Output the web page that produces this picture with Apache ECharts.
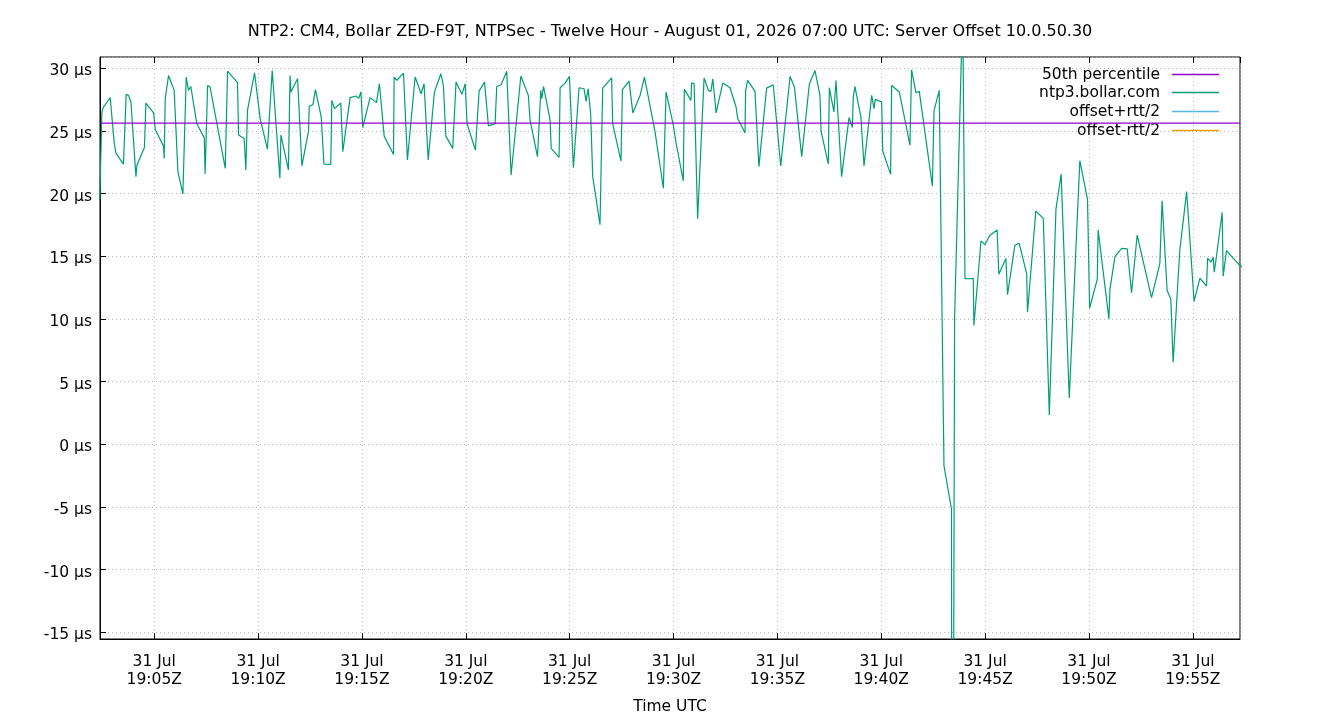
<!DOCTYPE html>
<html>
<head>
    <meta charset="utf-8">
    <title>NTP2 Server Offset</title>
    <script src="https://cdn.jsdelivr.net/npm/echarts@6.0.0/dist/echarts.min.js"></script>
    <style>
        html, body { margin: 0; padding: 0; background: #fff; }
        #chart { width: 1340px; height: 720px; }
    </style>
</head>
<body>
<div id="chart"></div>
<script>
    // sample time, minutes after 31 Jul 19:00Z
    var sampleTime = [
        2.38, 2.48, 2.56, 2.88, 3.08, 3.16, 3.52, 3.65, 3.76, 3.88, 4.12, 4.17, 4.53, 4.60, 4.97,
        5.05, 5.45, 5.48, 5.53, 5.69, 5.96, 6.14, 6.38, 6.54, 6.65, 6.76, 7.05, 7.41, 7.45, 7.57,
        7.69, 8.42, 8.53, 9.01, 9.06, 9.33, 9.41, 9.49, 9.83, 10.10, 10.45, 10.68, 11.05, 11.10, 11.46,
        11.54, 11.58, 11.90, 12.11, 12.43, 12.46, 12.64, 12.76, 13.04, 13.17, 13.50, 13.55, 13.68, 13.98, 14.08,
        14.43, 14.72, 14.85, 14.95, 15.04, 15.39, 15.70, 15.84, 16.07, 16.52, 16.55, 16.68, 17.00, 17.19, 17.56,
        17.85, 17.99, 18.19, 18.49, 18.80, 18.92, 19.04, 19.37, 19.53, 19.81, 19.97, 20.06, 20.46, 20.64, 20.90,
        21.09, 21.41, 21.49, 21.70, 21.97, 22.18, 22.65, 23.01, 23.09, 23.45, 23.61, 23.66, 23.74, 24.06, 24.11,
        24.49, 24.54, 24.78, 24.99, 25.18, 25.45, 25.69, 25.79, 25.89, 26.01, 26.11, 26.46, 26.59, 27.02, 27.07,
        27.47, 27.54, 27.86, 28.04, 28.39, 28.60, 29.11, 29.51, 29.64, 29.99, 30.12, 30.47, 30.52, 30.84, 30.87,
        30.99, 31.16, 31.47, 31.68, 31.80, 31.89, 32.05, 32.37, 32.72, 33.01, 33.09, 33.44, 33.47, 33.57, 33.92,
        34.11, 34.48, 34.80, 35.16, 35.61, 35.82, 36.17, 36.54, 36.81, 37.05, 37.10, 37.45, 37.50, 37.72, 37.82,
        38.09, 38.45, 38.61, 38.65, 38.73, 39.02, 39.17, 39.54, 39.65, 39.71, 40.02, 40.07, 40.45, 40.50, 40.87,
        41.38, 41.46, 41.67, 41.83, 42.46, 42.54, 42.79, 43.02, 43.38, 43.42, 43.53, 43.92, 44.03, 44.43, 44.46,
        44.80, 44.99, 45.23, 45.58, 45.66, 46.00, 46.08, 46.43, 46.64, 47.00, 47.04, 47.44, 47.80, 48.09, 48.41,
        48.66, 49.05, 49.56, 49.93, 50.03, 50.40, 50.44, 50.96, 51.01, 51.25, 51.57, 51.84, 52.05, 52.32, 53.01,
        53.41, 53.52, 53.76, 53.94, 54.05, 54.37, 54.70, 55.06, 55.34, 55.66, 55.71, 55.87, 55.98, 56.03, 56.11,
        56.41, 56.46, 56.62, 57.23, 57.50
    ];
    // ntp3.bollar.com offset, microseconds
    var sampleOffset = [
        19.5, 26.51, 26.90, 27.65, 23.94, 23.20, 22.35, 27.91, 27.83, 27.30, 21.35, 22.28, 23.68, 27.22, 26.43,
        25.11, 23.78, 22.80, 27.57, 29.42, 28.23, 21.75, 19.97, 29.29, 28.23, 28.54, 25.58, 24.44, 21.56, 28.62,
        28.49, 22.01, 29.76, 28.84, 24.66, 24.39, 21.88, 26.64, 29.63, 25.98, 23.54, 29.81, 21.22, 24.66, 21.88,
        29.42, 28.10, 29.15, 22.20, 25.00, 26.96, 27.09, 28.28, 26.11, 22.35, 22.33, 27.43, 26.77, 27.22, 23.33,
        27.65, 27.78, 27.59, 28.12, 25.26, 27.65, 27.25, 28.76, 24.58, 23.12, 29.29, 29.02, 29.60, 22.67, 29.29,
        27.96, 28.76, 22.67, 28.10, 29.55, 28.62, 24.58, 23.60, 28.89, 27.91, 28.76, 25.58, 23.47, 28.17, 28.89,
        25.40, 25.58, 28.54, 28.68, 29.76, 21.48, 29.37, 27.83, 25.90, 22.94, 28.23, 27.57, 28.54, 25.85, 23.60,
        22.88, 28.44, 28.81, 29.34, 22.06, 28.44, 28.36, 27.35, 28.36, 26.38, 21.35, 17.51, 28.41, 29.23, 25.58,
        22.59, 28.28, 28.97, 26.43, 27.83, 29.29, 24.92, 20.42, 28.10, 25.45, 24.05, 21.01, 28.31, 27.43, 28.81,
        28.76, 17.99, 29.21, 28.23, 28.15, 29.15, 26.43, 28.81, 28.44, 26.90, 25.98, 24.84, 28.23, 29.02, 28.15,
        22.14, 28.41, 28.68, 22.20, 29.34, 28.49, 22.94, 28.76, 29.81, 27.83, 25.00, 22.35, 28.44, 26.51, 29.02,
        21.35, 26.06, 25.26, 27.65, 28.54, 26.11, 22.20, 27.83, 26.77, 27.51, 27.30, 23.39, 21.53, 28.62, 28.10,
        23.86, 29.87, 28.04, 28.15, 20.61, 26.59, 28.23, -1.72, -5.16, -60.0, 10.0, 35.0, 13.22, 13.22, 9.48,
        16.22, 15.92, 16.67, 17.09, 13.57, 14.81, 11.93, 15.87, 16.03, 13.62, 10.53, 18.60, 18.02, 2.33, 18.73,
        21.56, 3.70, 22.62, 19.52, 10.85, 13.17, 17.09, 10.00, 12.38, 14.97, 15.63, 15.58, 12.09, 16.69, 11.69,
        14.39, 19.42, 12.28, 11.56, 6.53, 15.45, 20.16, 11.40, 13.25, 12.62, 14.84, 14.52, 14.92, 13.73, 14.66,
        18.49, 13.41, 15.45, 14.31, 14.0
    ];
    var p50Offset = 25.62;
    var xRange = [2.39, 57.27];
    var yRange = [-15.53, 30.89];
    var xTicks = [5, 10, 15, 20, 25, 30, 35, 40, 45, 50, 55];
    var xTickLabels = ['31 Jul\n19:05Z', '31 Jul\n19:10Z', '31 Jul\n19:15Z', '31 Jul\n19:20Z', '31 Jul\n19:25Z',
        '31 Jul\n19:30Z', '31 Jul\n19:35Z', '31 Jul\n19:40Z', '31 Jul\n19:45Z', '31 Jul\n19:50Z', '31 Jul\n19:55Z'];
    var yTicks = [-15, -10, -5, 0, 5, 10, 15, 20, 25, 30];
    var yTickLabels = ['-15 µs', '-10 µs', '-5 µs', '0 µs', '5 µs', '10 µs', '15 µs', '20 µs', '25 µs', '30 µs'];
    var seriesNames = ['50th percentile', 'ntp3.bollar.com', 'offset+rtt/2', 'offset-rtt/2'];
    var seriesColors = ['#9400d3', '#009e73', '#56b4e9', '#e69f00'];

    var font = 'DejaVu Sans';
    var fontSize = 15.5;

    function tickLabel(ticks, labels) {
        return function (v) {
            for (var i = 0; i < ticks.length; i++) {
                if (Math.abs(ticks[i] - v) < 1e-6) return labels[i];
            }
            return '';
        };
    }

    var offsetData = sampleTime.map(function (t, i) { return [t, sampleOffset[i]]; });
    var p50Data = [[xRange[0], p50Offset], [xRange[1], p50Offset]];

    var legendTops = [60.5, 78.5, 97.5, 116.5];
    var legends = seriesNames.map(function (name, i) {
        return {
            data: [name],
            orient: 'vertical',
            right: 116,
            top: legendTops[i],
            align: 'right',
            icon: 'rect',
            itemWidth: 47,
            itemHeight: 1.5,
            selectedMode: false,
            textStyle: { fontFamily: font, fontSize: fontSize, color: '#000', lineHeight: 18, padding: [0, 7, 0, 0] }
        };
    });

    var chart = echarts.init(document.getElementById('chart'));
    chart.setOption({
        animation: false,
        backgroundColor: '#fff',
        title: {
            text: 'NTP2: CM4, Bollar ZED-F9T, NTPSec - Twelve Hour - August 01, 2026 07:00 UTC: Server Offset 10.0.50.30',
            left: 'center',
            top: 19,
            textStyle: { fontFamily: font, fontSize: 16, fontWeight: 'normal', color: '#000' }
        },
        legend: legends,
        grid: {
            left: 100, right: 100, top: 57, bottom: 79,
            show: true, borderColor: '#000', borderWidth: 1
        },
        xAxis: [{
            type: 'value',
            min: xRange[0], max: xRange[1],
            splitNumber: 11,
            name: 'Time UTC',
            nameLocation: 'middle',
            nameGap: 60,
            nameTextStyle: { fontFamily: font, fontSize: fontSize, color: '#000' },
            axisLine: { onZero: false, lineStyle: { color: '#000' } },
            axisTick: { inside: true, length: 6, lineStyle: { color: '#000' } },
            axisLabel: {
                formatter: tickLabel(xTicks, xTickLabels),
                showMinLabel: false, showMaxLabel: false,
                margin: 14,
                fontFamily: font, fontSize: fontSize, color: '#000', lineHeight: 18
            },
            splitLine: { show: true, lineStyle: { color: '#b8b8b8', type: [1, 3] } }
        }, {
            type: 'value',
            position: 'top',
            min: xRange[0], max: xRange[1],
            splitNumber: 11,
            axisLine: { show: false, onZero: false },
            axisTick: { inside: true, length: 6, lineStyle: { color: '#000' } },
            axisLabel: { show: false },
            splitLine: { show: false }
        }],
        yAxis: {
            type: 'value',
            min: yRange[0], max: yRange[1],
            splitNumber: 9,
            axisLine: { show: true, onZero: false, lineStyle: { color: '#000' } },
            axisTick: { show: true, inside: true, length: 6, lineStyle: { color: '#000' } },
            axisLabel: {
                formatter: tickLabel(yTicks, yTickLabels),
                showMinLabel: false, showMaxLabel: false,
                margin: 8,
                verticalAlign: 'top',
                lineHeight: 6,
                fontFamily: font, fontSize: fontSize, color: '#000'
            },
            splitLine: { show: true, lineStyle: { color: '#b8b8b8', type: [1, 3] } }
        },
        series: [{
            name: seriesNames[0],
            type: 'line',
            data: p50Data,
            color: seriesColors[0],
            showSymbol: false,
            lineStyle: { width: 1.2 },
            z: 4
        }, {
            name: seriesNames[1],
            type: 'line',
            data: offsetData,
            color: seriesColors[1],
            showSymbol: false,
            lineStyle: { width: 1.2 },
            z: 3
        }, {
            name: seriesNames[2],
            type: 'line',
            data: [],
            color: seriesColors[2],
            showSymbol: false
        }, {
            name: seriesNames[3],
            type: 'line',
            data: [],
            color: seriesColors[3],
            showSymbol: false
        }]
    });
</script>
</body>
</html>
